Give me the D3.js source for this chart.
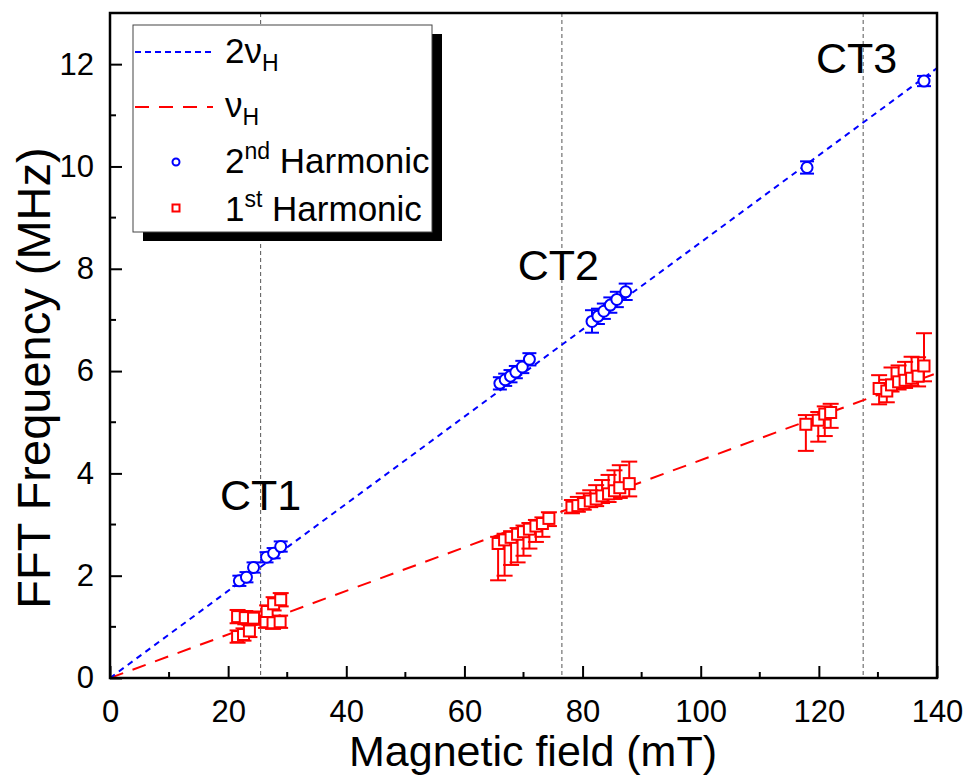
<!DOCTYPE html>
<html><head><meta charset="utf-8">
<script src="https://cdn.jsdelivr.net/npm/d3@7"></script>
<style>body{margin:0;background:#fff}svg{display:block;font-family:"Liberation Sans",Arial,sans-serif}</style>
</head><body><svg id="c" width="969" height="775"></svg>
<script>
// ---- data ----
const xTicks = [0, 20, 40, 60, 80, 100, 120, 140];
const yTicks = [0, 2, 4, 6, 8, 10, 12];
const ctPositions = [25.5, 76.5, 127.5];
const ctLabels = ["CT1", "CT2", "CT3"];
const ctLabelX = [25.5, 75.9, 126.4];
const ctLabelY = [3.28, 7.78, 11.82];
const gammaH = 0.04258; // MHz per mT
const lineX = [0, 140];

const h2Field = [21.9, 23.1, 24.3, 26.5, 27.7, 28.9, 66.0, 66.9, 67.8, 68.7, 69.8, 71.0, 81.6, 82.6, 83.6, 84.7, 85.8, 87.3, 118.0, 137.8];
const h2Freq  = [1.90, 1.97, 2.16, 2.36, 2.44, 2.57, 5.76, 5.83, 5.90, 5.98, 6.08, 6.23, 6.97, 7.07, 7.17, 7.29, 7.40, 7.55, 9.98, 11.67];
const h2Err   = [0.10, 0.10, 0.10, 0.10, 0.10, 0.10, 0.12, 0.12, 0.12, 0.12, 0.12, 0.12, 0.22, 0.15, 0.15, 0.15, 0.15, 0.16, 0.12, 0.10];

const h1Field = [21.6, 22.9, 24.3, 21.6, 22.6, 23.6, 26.4, 27.6, 28.8, 26.6, 27.7, 28.9,
                 65.7, 66.8, 67.9, 69.0, 70.0, 71.0, 72.1, 73.2, 74.3,
                 78.2, 79.2, 80.2, 81.3, 82.3, 83.3, 84.4, 85.4, 86.3, 87.9,
                 117.8, 119.9, 121.0, 122.0, 130.2, 131.5, 132.3, 133.5, 134.6, 135.7, 136.8, 137.8];
const h1Freq  = [1.20, 1.18, 1.17, 0.81, 0.85, 0.92, 1.10, 1.08, 1.10, 1.30, 1.45, 1.53,
                 2.63, 2.70, 2.75, 2.81, 2.86, 2.91, 2.97, 3.02, 3.12,
                 3.34, 3.37, 3.41, 3.46, 3.50, 3.56, 3.60, 3.66, 3.72, 3.80,
                 4.96, 5.04, 5.16, 5.19, 5.66, 5.61, 5.73, 5.79, 5.82, 5.86, 5.90, 6.10];
const h1ErrHigh = [0.13, 0.13, 0.13, 0.12, 0.12, 0.12, 0.12, 0.12, 0.12, 0.12, 0.13, 0.13,
                 0.13, 0.12, 0.12, 0.12, 0.12, 0.12, 0.12, 0.12, 0.12,
                 0.14, 0.17, 0.20, 0.21, 0.27, 0.31, 0.37, 0.40, 0.44, 0.43,
                 0.18, 0.16, 0.15, 0.17, 0.26, 0.22, 0.34, 0.32, 0.36, 0.42, 0.37, 0.64];
const h1ErrLow  = [0.13, 0.13, 0.13, 0.12, 0.12, 0.12, 0.12, 0.12, 0.12, 0.12, 0.13, 0.13,
                 0.72, 0.70, 0.54, 0.55, 0.47, 0.38, 0.31, 0.26, 0.15,
                 0.12, 0.12, 0.12, 0.12, 0.14, 0.14, 0.16, 0.16, 0.20, 0.25,
                 0.52, 0.42, 0.43, 0.30, 0.31, 0.22, 0.13, 0.15, 0.15, 0.15, 0.20, 0.30];

// ---- layout ----
const W = 969, H = 775;
const m = {left: 110, top: 13, right: 32, bottom: 97};
const svg = d3.select("#c");
const x = d3.scaleLinear().domain([0, 140]).range([m.left, W - m.right]);
const y = d3.scaleLinear().domain([0, 13]).range([H - m.bottom, m.top]);
const BLUE = "#0000ff", RED = "#ff0000";

svg.append("defs").append("clipPath").attr("id", "clip").append("rect")
  .attr("x", m.left).attr("y", m.top).attr("width", W - m.left - m.right).attr("height", H - m.top - m.bottom);

const plot = svg.append("g").attr("clip-path", "url(#clip)");

// CT vertical dashed lines
plot.selectAll(".ct").data(ctPositions).join("line")
  .attr("x1", d => x(d)).attr("x2", d => x(d))
  .attr("y1", y(13)).attr("y2", y(0))
  .attr("stroke", "#555").attr("stroke-width", 1).attr("stroke-dasharray", "4,3");

// theory lines
const line = d3.line().x(d => x(d[0])).y(d => y(d[1]));
plot.append("path").datum(lineX.map(b => [b, gammaH * b]))
  .attr("d", line).attr("fill", "none").attr("stroke", RED).attr("stroke-width", 2).attr("stroke-dasharray", "14,10");
plot.append("path").datum(lineX.map(b => [b, 2 * gammaH * b]))
  .attr("d", line).attr("fill", "none").attr("stroke", BLUE).attr("stroke-width", 2).attr("stroke-dasharray", "6,5");

function errBars(g, xs, ys, lo, hi, color, cap) {
  const d = xs.map((v, i) => ({x: v, y: ys[i], lo: lo[i], hi: hi[i]}));
  const eg = g.append("g").attr("stroke", color).attr("stroke-width", 2).attr("fill", "none");
  eg.selectAll(".v").data(d).join("line")
    .attr("x1", p => x(p.x)).attr("x2", p => x(p.x))
    .attr("y1", p => y(p.y - p.lo)).attr("y2", p => y(p.y + p.hi));
  eg.selectAll(".t").data(d).join("line")
    .attr("x1", p => x(p.x) - cap).attr("x2", p => x(p.x) + cap)
    .attr("y1", p => y(p.y + p.hi)).attr("y2", p => y(p.y + p.hi));
  eg.selectAll(".b").data(d).join("line")
    .attr("x1", p => x(p.x) - cap).attr("x2", p => x(p.x) + cap)
    .attr("y1", p => y(p.y - p.lo)).attr("y2", p => y(p.y - p.lo));
}

// 1st harmonic (red squares)
errBars(plot, h1Field, h1Freq, h1ErrLow, h1ErrHigh, RED, 8);
plot.append("g").selectAll("rect").data(h1Field.map((v, i) => [v, h1Freq[i]])).join("rect")
  .attr("x", d => x(d[0]) - 5.5).attr("y", d => y(d[1]) - 5.5).attr("width", 11).attr("height", 11)
  .attr("fill", "#fff").attr("stroke", RED).attr("stroke-width", 2);

// 2nd harmonic (blue circles)
errBars(plot, h2Field, h2Freq, h2Err, h2Err, BLUE, 7);
plot.append("g").selectAll("circle").data(h2Field.map((v, i) => [v, h2Freq[i]])).join("circle")
  .attr("cx", d => x(d[0])).attr("cy", d => y(d[1])).attr("r", 5.5)
  .attr("fill", "#fff").attr("stroke", BLUE).attr("stroke-width", 2);

// CT labels
svg.selectAll(".ctl").data(ctLabels).join("text")
  .attr("x", (d, i) => x(ctLabelX[i])).attr("y", (d, i) => y(ctLabelY[i]))
  .attr("text-anchor", "middle").attr("font-size", 43).attr("fill", "#000").text(d => d);

// axes
const xAxis = d3.axisBottom(x).tickValues(xTicks).tickSize(-12).tickPadding(22).tickSizeOuter(0);
const gx = svg.append("g").attr("transform", `translate(0,${H - m.bottom})`).call(xAxis);
const yAxis = d3.axisLeft(y).tickValues(yTicks).tickSize(-12).tickPadding(16).tickSizeOuter(0);
const gy = svg.append("g").attr("transform", `translate(${m.left},0)`).call(yAxis);
[gx, gy].forEach(g => {
  g.selectAll(".domain").remove();
  g.selectAll(".tick line").attr("stroke", "#000").attr("stroke-width", 2);
  g.selectAll(".tick text").attr("font-size", 31).attr("fill", "#000").attr("font-family", "Liberation Sans, Arial, sans-serif");
});
const xMinor = d3.range(10, 140, 20);
svg.append("g").selectAll("line").data(xMinor).join("line")
  .attr("x1", d => x(d)).attr("x2", d => x(d)).attr("y1", y(0)).attr("y2", y(0) - 6)
  .attr("stroke", "#000").attr("stroke-width", 2);
const yMinor = d3.range(1, 13, 2);
svg.append("g").selectAll("line").data(yMinor).join("line")
  .attr("x1", x(0)).attr("x2", x(0) + 6).attr("y1", d => y(d)).attr("y2", d => y(d))
  .attr("stroke", "#000").attr("stroke-width", 2);

// frame
svg.append("rect").attr("x", m.left).attr("y", m.top)
  .attr("width", W - m.left - m.right).attr("height", H - m.top - m.bottom)
  .attr("fill", "none").attr("stroke", "#000").attr("stroke-width", 2.5);

// axis titles
svg.append("text").attr("x", 533).attr("y", 766)
  .attr("text-anchor", "middle").attr("font-size", 43).text("Magnetic field (mT)");
svg.append("text").attr("transform", `translate(50,378) rotate(-90)`)
  .attr("text-anchor", "middle").attr("font-size", 47).text("FFT Frequency (MHz)");

// legend
const lg = svg.append("g");
lg.append("rect").attr("x", 143).attr("y", 34).attr("width", 299).attr("height", 207).attr("fill", "#000");
lg.append("rect").attr("x", 133).attr("y", 25).attr("width", 299).attr("height", 207)
  .attr("fill", "#fff").attr("stroke", "#444").attr("stroke-width", 1);
const legendItems = [
  {type: "line", color: BLUE, dash: "6,4", y: 52, main: "2ν", sup: null, sub: "H", base: 63},
  {type: "line", color: RED, dash: "14,10", y: 107, main: "ν", sup: null, sub: "H", base: 117},
  {type: "circle", color: BLUE, y: 162, main: "2", sup: "nd", tail: " Harmonic", base: 173},
  {type: "square", color: RED, y: 208, main: "1", sup: "st", tail: " Harmonic", base: 221}
];
legendItems.forEach(it => {
  if (it.type === "line") {
    lg.append("line").attr("x1", 135).attr("x2", 213).attr("y1", it.y).attr("y2", it.y)
      .attr("stroke", it.color).attr("stroke-width", 2).attr("stroke-dasharray", it.dash);
  } else if (it.type === "circle") {
    lg.append("circle").attr("cx", 176).attr("cy", it.y).attr("r", 3.5)
      .attr("fill", "#fff").attr("stroke", it.color).attr("stroke-width", 2);
  } else {
    lg.append("rect").attr("x", 172.5).attr("y", it.y - 3.5).attr("width", 7).attr("height", 7)
      .attr("fill", "#fff").attr("stroke", it.color).attr("stroke-width", 2);
  }
  const t = lg.append("text").attr("x", 225).attr("y", it.base).attr("font-size", 35);
  t.append("tspan").text(it.main);
  if (it.sub) t.append("tspan").attr("font-size", 23).attr("dy", 8).text(it.sub);
  if (it.sup) t.append("tspan").attr("font-size", 23).attr("dy", -14).text(it.sup);
  if (it.tail) t.append("tspan").attr("dy", 14).text(it.tail);
});
</script></body></html>
